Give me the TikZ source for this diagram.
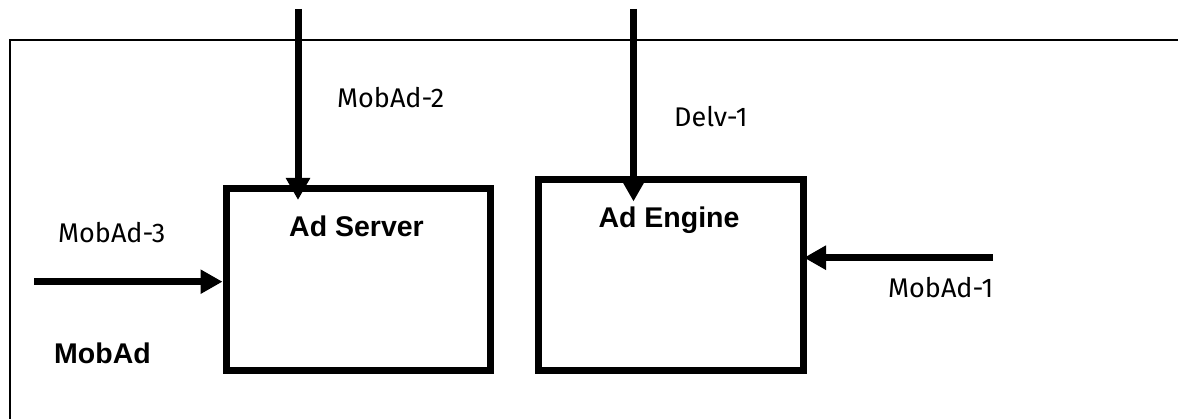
\documentclass[tikz,border=0pt]{standalone}
\usepackage{fontspec}
\setmainfont{Liberation Sans}
\newfontfamily\lblfont{Fira Sans}
\usetikzlibrary{arrows.meta}
\begin{document}
\begin{tikzpicture}[x=1pt,y=-1pt,
  box/.style={draw=black,line width=7pt,rectangle,inner sep=0pt},
  flow/.style={line width=7pt,-{Triangle[width=23pt,length=22pt]}},
  lbl/.style={anchor=base west,inner sep=0pt,font=\lblfont\fontsize{27}{30}\selectfont},
  title/.style={anchor=base,inner sep=0pt,font=\bfseries\fontsize{28.5}{32}\selectfont}]
\useasboundingbox (0,0) rectangle (1178,419);
% outer frame (open to right and bottom)
\draw[line width=1.5pt] (1185,40) -- (10,40) -- (10,430);
% boxes
\node[box,minimum width=264pt,minimum height=182pt] (srv) at (358,280) {};
\node[box,minimum width=265pt,minimum height=191.5pt] (eng) at (670.5,275.25) {};
\node[title] (srvt) at (356.5,237) {Ad Server};
\node[title] (engt) at (669,228) {Ad Engine};
\node[title,anchor=base west] (mob) at (54,364) {MobAd};
% connector ends
\coordinate (s2) at (298,9);
\coordinate (t2) at (298,200);
\coordinate (s1d) at (633.5,9);
\coordinate (t1d) at (633.5,201.5);
\coordinate (s3) at (34,281.7);
\coordinate (t3) at (222.5,281.7);
\coordinate (s1) at (993,257.7);
\coordinate (t1) at (804,257.7);
\draw[flow] (s2) -- (t2);
\draw[flow] (s1d) -- (t1d);
\draw[flow] (s3) -- (t3);
\draw[flow] (s1) -- (t1);
% labels
\node[lbl] (l2) at (337,108) {MobAd-2};
\node[lbl] (ld) at (674,127) {Delv-1};
\node[lbl] (l3) at (58,243) {MobAd-3};
\node[lbl] (l1) at (888,298) {MobAd-1};
\end{tikzpicture}
\end{document}
